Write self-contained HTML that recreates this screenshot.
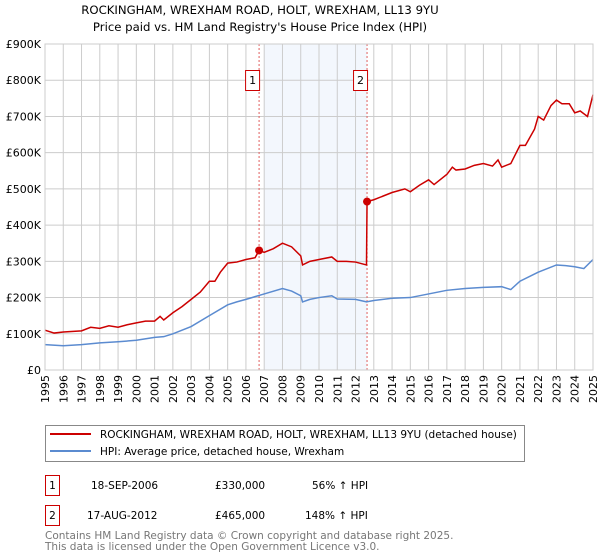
<!DOCTYPE html>
<html><head><meta charset="utf-8"><style>
body{margin:0;background:#fff;}
svg{display:block;font-family:"DejaVu Sans","Liberation Sans",sans-serif;}
</style></head><body>
<svg id="chart" width="600" height="560" xmlns="http://www.w3.org/2000/svg">
<text x="260" y="14" text-anchor="middle" font-size="11.7">ROCKINGHAM, WREXHAM ROAD, HOLT, WREXHAM, LL13 9YU</text>
<text x="260" y="31" text-anchor="middle" font-size="11.7">Price paid vs. HM Land Registry's House Price Index (HPI)</text>
<g id="plot"></g>
<rect x="45.5" y="425.5" width="479" height="36" fill="none" stroke="#888"/>
<line x1="50" y1="434" x2="91" y2="434" stroke="#cc0000" stroke-width="2"/>
<text x="100" y="438" font-size="10.5">ROCKINGHAM, WREXHAM ROAD, HOLT, WREXHAM, LL13 9YU (detached house)</text>
<line x1="50" y1="451" x2="91" y2="451" stroke="#5b8bd0" stroke-width="2"/>
<text x="100" y="455" font-size="10.5">HPI: Average price, detached house, Wrexham</text>
<g>
<rect x="45.5" y="475.5" width="14" height="20" fill="#fff" stroke="#cc0000"/>
<text x="52.5" y="489" font-size="10.5" text-anchor="middle">1</text>
<text y="489" font-size="10.5"><tspan x="91">18-SEP-2006</tspan><tspan x="215">£330,000</tspan><tspan x="312">56% ↑ HPI</tspan></text>
</g>
<g>
<rect x="45.5" y="505.5" width="14" height="20" fill="#fff" stroke="#cc0000"/>
<text x="52.5" y="519" font-size="10.5" text-anchor="middle">2</text>
<text font-size="10.5" y="519"><tspan x="87">17-AUG-2012</tspan><tspan x="215">£465,000</tspan><tspan x="305">148% ↑ HPI</tspan></text>
</g>
<text x="45" y="539" font-size="10.5" fill="#777">Contains HM Land Registry data © Crown copyright and database right 2025.</text>
<text x="45" y="550" font-size="10.5" fill="#777">This data is licensed under the Open Government Licence v3.0.</text>
</svg>
<script>
const yearTicks=[1995,1996,1997,1998,1999,2000,2001,2002,2003,2004,2005,2006,2007,2008,2009,2010,2011,2012,2013,2014,2015,2016,2017,2018,2019,2020,2021,2022,2023,2024,2025];
const valueTicks=[0,100,200,300,400,500,600,700,800,900];
const valueTickLabels=["£0","£100K","£200K","£300K","£400K","£500K","£600K","£700K","£800K","£900K"];
const propYears=[1995,1995.5,1996,1997,1997.5,1998,1998.5,1999,1999.5,2000,2000.5,2001,2001.3,2001.5,2002,2002.5,2003,2003.5,2004,2004.3,2004.6,2005,2005.5,2006,2006.5,2006.72,2007,2007.5,2008,2008.5,2009,2009.1,2009.5,2010,2010.7,2011,2011.5,2012,2012.6,2012.63,2013,2013.5,2014,2014.7,2015,2015.5,2016,2016.3,2017,2017.3,2017.5,2018,2018.5,2019,2019.5,2019.8,2020,2020.5,2021,2021.3,2021.8,2022,2022.3,2022.7,2023,2023.3,2023.7,2024,2024.3,2024.7,2025];
const propValues=[110,102,105,108,118,115,122,118,125,130,135,135,148,138,158,175,195,215,245,245,270,295,298,305,310,330,325,335,350,340,315,290,300,305,312,300,300,298,290,465,470,480,490,500,492,510,525,512,540,560,552,555,565,570,563,580,560,570,620,620,665,700,690,730,745,735,735,710,715,700,760];
const hpiYears=[1995,1996,1997,1998,1999,2000,2001,2001.5,2002,2003,2004,2005,2005.5,2006,2007,2008,2008.5,2009,2009.1,2009.5,2010,2010.7,2011,2012,2012.6,2013,2014,2015,2016,2017,2018,2019,2020,2020.5,2021,2022,2023,2023.5,2024,2024.5,2025];
const hpiValues=[70,67,70,75,78,82,90,92,100,120,150,180,188,195,210,225,218,205,188,195,200,205,196,195,188,192,198,200,210,220,225,228,230,222,245,270,290,288,285,280,305];
const saleYears=[2006.72,2012.63];
const saleValues=[330,465];
const saleLabels=["1","2"];
const shadeRange=[2007.0,2012.63];

const NS="http://www.w3.org/2000/svg";
const L=45,R=593,T=44,B=370;
const xs=y=>L+(y-1995)/(2025-1995)*(R-L);
const ys=v=>B-v/900*(B-T);
const g=document.getElementById('plot');
function mk(t,a){const e=document.createElementNS(NS,t);for(const k in a)e.setAttribute(k,a[k]);g.appendChild(e);return e;}

const sh=mk('rect',{x:xs(shadeRange[0]),y:T,width:xs(shadeRange[1])-xs(shadeRange[0]),height:B-T,fill:'#eef3fc',opacity:0.7});


yearTicks.forEach(yr=>{
  const l=mk('line',{x1:xs(yr),x2:xs(yr),y1:T,y2:B,stroke:'#ccc','stroke-width':1});
  
  
  const t=mk('text',{transform:`translate(${xs(yr)+4},${B+5}) rotate(-90)`,'text-anchor':'end','font-size':11});
  t.textContent=yr;
  
  
});
valueTicks.forEach((v,i)=>{
  const l=mk('line',{x1:L,x2:R,y1:ys(v),y2:ys(v),stroke:'#ccc','stroke-width':1});
  
  
  const t=mk('text',{x:L-4,y:ys(v)+4,'text-anchor':'end','font-size':11});
  t.textContent=valueTickLabels[i];
  
  
});
saleYears.forEach((yr,i)=>{
  const l=mk('line',{x1:xs(yr),x2:xs(yr),y1:T,y2:B,stroke:'#e06060','stroke-dasharray':'2,2','stroke-width':1});
  
  
  const bx=mk('rect',{x:xs(yr)-13.5,y:70.5,width:14,height:20,fill:'#fff',stroke:'#cc0000'});
  
  
  const t=mk('text',{x:xs(yr)-6.5,y:84,'text-anchor':'middle','font-size':11});
  t.textContent=saleLabels[i];
  
  
});
const hp=mk('polyline',{points:hpiYears.map((y,i)=>xs(y)+','+ys(hpiValues[i])).join(' '),fill:'none',stroke:'#5b8bd0','stroke-width':1.5});


const pp=mk('polyline',{points:propYears.map((y,i)=>xs(y)+','+ys(propValues[i])).join(' '),fill:'none',stroke:'#cc0000','stroke-width':1.5});


saleYears.forEach((yr,i)=>{
  const c=mk('circle',{cx:xs(yr),cy:ys(saleValues[i]),r:4,fill:'#cc0000'});
  
  
});
const fr=mk('rect',{x:L,y:T,width:R-L,height:B-T,fill:'none',stroke:'#ccc'});


</script>
</body></html>
